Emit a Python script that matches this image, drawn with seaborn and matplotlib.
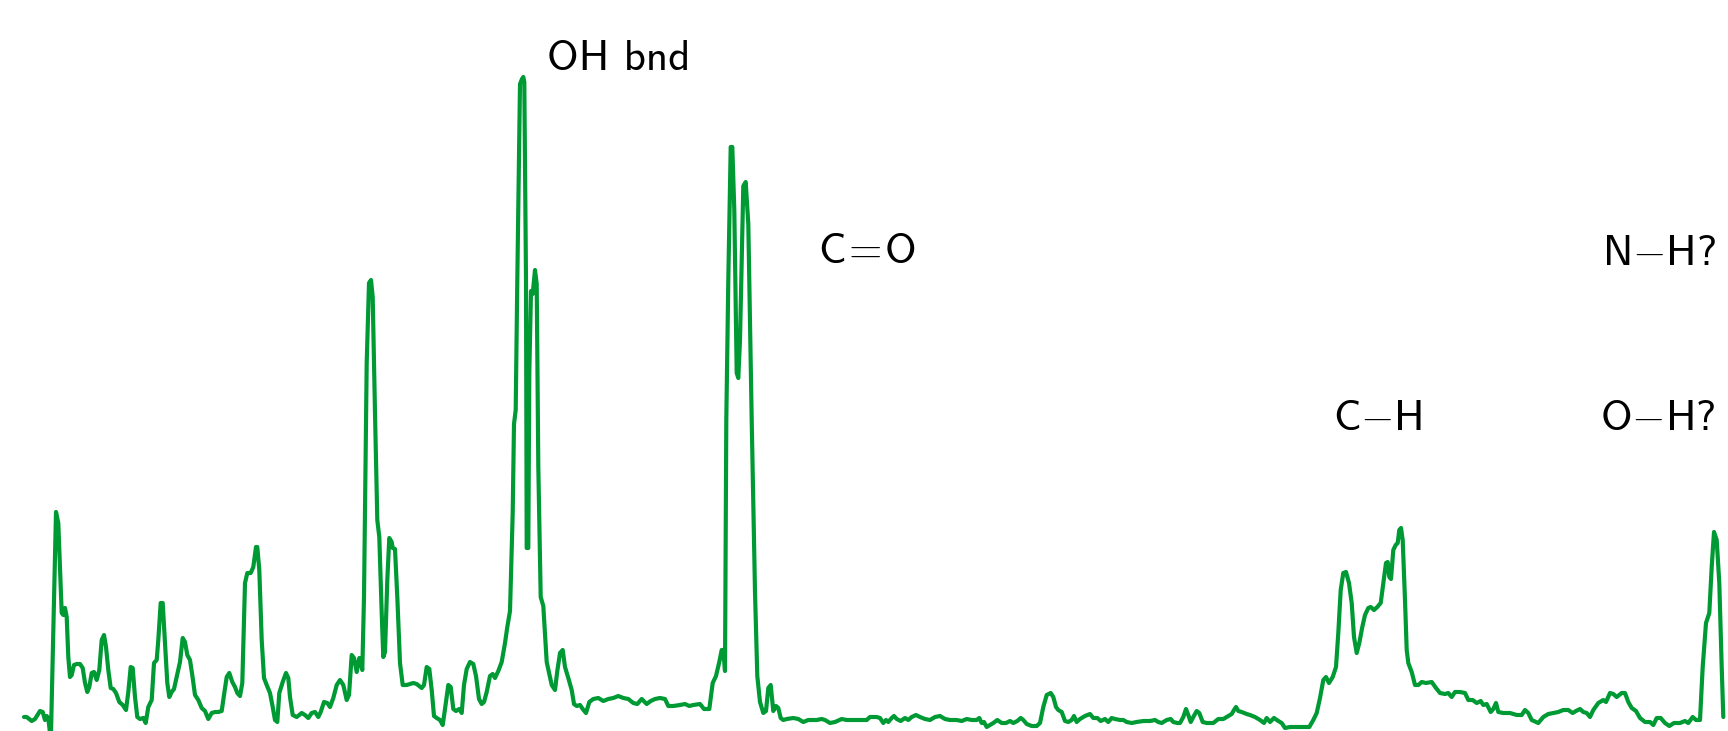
import matplotlib
matplotlib.use('Agg')
import matplotlib.pyplot as plt
import seaborn as sns
import pandas as pd

# --- SPECTRUM DATA (arbitrary units) ---
position = [
    24, 26.7, 31.7, 35, 40, 42.7, 45, 46.7, 48.3, 50, 51, 56, 58.3, 61.7, 63.3, 65, 66.7, 68.3, 70, 71.7,
    74, 76.7, 80, 82.7, 85, 87.3, 89.3, 91.7, 94, 96.7, 99.3, 101.7, 104, 106, 108.3, 110.7, 113.3, 116,
    119.3, 122.7, 126, 128.3, 130.7, 132.7, 135, 137.3, 140, 143.3, 145.7, 148.3, 151.7, 154, 156.7, 158.3,
    160.7, 162.7, 165, 167.3, 169.3, 171.7, 174, 176.7, 180, 182.7, 185, 187.3, 190, 192.7, 195, 198.3,
    201.7, 205, 208.3, 211.7, 215, 218.3, 221.7, 224, 226.7, 229.3, 232.3, 235, 237.3, 240, 242.3, 245,
    247.3, 250.7, 253.3, 256, 257.3, 259.3, 261.7, 264, 266.7, 270, 272.7, 275, 277.3, 279.3, 282.7, 286,
    288.3, 290, 292.7, 296.7, 301.7, 305, 308.3, 311.7, 315, 318.3, 320.7, 324, 327.3, 330, 333.3, 336.7,
    340, 343.3, 346.7, 349, 351.7, 354, 356.7, 359.3, 361, 362.3, 364, 366.7, 369, 371, 372.7, 375, 377.3,
    379.3, 381.7, 383.3, 385, 387.3, 389.3, 391.7, 392.7, 395, 397.3, 400, 402.7, 406.7, 410, 413.3, 416.7,
    421.7, 424, 426.7, 429.3, 431.7, 434, 436.7, 440, 442.7, 445, 448.3, 450.7, 453.3, 456, 459.3, 461.7,
    464, 466.7, 470, 473.3, 476, 479, 481.7, 484, 486.7, 490, 492.7, 495, 498.3, 501.7, 505, 507.3, 510,
    512.7, 514, 515.7, 517.3, 520, 522, 523.3, 524.3, 526, 526.7, 528.3, 529.3, 531, 532.7, 535, 536.7,
    538.3, 540.7, 543.3, 546.7, 549.3, 551.7, 555, 557.3, 560, 562.7, 565, 568.3, 571.7, 574, 576.7, 580,
    582.7, 586, 589.3, 593.3, 598.3, 603.3, 608.3, 613.3, 618.3, 623.3, 628.3, 633.3, 637.3, 641.7, 646.7,
    650.7, 655, 660, 665, 668.3, 673.3, 680, 685, 689.3, 693.3, 700, 704, 709.3, 712.7, 716, 719.3, 721.7,
    723.3, 725, 726.3, 728.3, 730.7, 732.3, 734.3, 736.7, 738.3, 740, 743.3, 745.7, 748.3, 751.7, 755,
    757.3, 760, 763.3, 766, 768.3, 770.7, 773.3, 776, 778.3, 780.7,
    783.3, 786.7, 793.3, 798.3, 803.3, 808.3, 816.7, 821.7, 825, 830, 835, 841.7, 846.7, 853.3, 860, 866.7,
    870, 876.7, 880, 883.3, 886, 888.3, 891.7, 894, 896.7, 900.7, 905, 908.3, 911.7, 916, 920, 925, 930,
    935, 940, 945, 950, 956.7, 961.7, 966.7, 971.7, 976.7, 979.3, 981.7, 984, 986.7, 990, 993.3, 997.3,
    1001.7, 1006, 1010, 1013.3, 1017.3, 1020.7, 1023.3, 1026.7, 1031.7, 1036.7, 1040, 1043.3, 1046.7,
    1050.7, 1053.3, 1056, 1058.3, 1061.7, 1065, 1068.3, 1071.7, 1074, 1076.7, 1080, 1085, 1090, 1093.3,
    1097.3, 1100.7, 1105, 1108.3, 1111.7, 1115, 1120, 1123.3, 1126.7, 1131.7, 1136.7, 1143.3, 1150, 1155,
    1158.3, 1161.7, 1166.7, 1170.7, 1173.3, 1177.3, 1180, 1183.3, 1186, 1188.3, 1190.7, 1193.3, 1196.7,
    1199.3, 1202.7, 1206.7, 1213.3, 1218.3, 1223.3, 1228.3, 1231.7, 1234, 1236, 1238.3, 1241.7, 1246.7,
    1250, 1255, 1260, 1264, 1266.7, 1270, 1274, 1278.3, 1281.7, 1285, 1290, 1296.7, 1303.3, 1309.3,
    1313.3, 1316.7, 1320, 1323.3, 1326, 1329, 1332.7, 1336, 1338.3, 1340.7, 1343.3, 1346, 1349, 1351.7,
    1354, 1356.7, 1359.3, 1362.3, 1365, 1368.3, 1370.7, 1374, 1377.3, 1380.7, 1383.3, 1386, 1387.7,
    1389.3, 1391, 1393.3, 1395.7, 1397.7, 1399.3, 1401, 1402.7, 1405, 1406.7, 1408.3, 1411.7, 1415,
    1418.3, 1421.7, 1426, 1431.7, 1436, 1440, 1445, 1448.3, 1451.7, 1455, 1460, 1465, 1468.3, 1472.7,
    1476.7, 1480.7, 1483.3, 1486.7, 1490.7, 1493.3, 1496, 1498.3, 1503.3, 1510, 1516.7, 1521.7, 1525,
    1528.3, 1531.7, 1538.3, 1543.3, 1548.3, 1553.3, 1558.3, 1563.3, 1568.3, 1572.7, 1576, 1580, 1583.3,
    1586.7, 1590, 1593.3, 1598.3, 1603.3, 1606, 1610, 1613.3, 1616.7, 1621.7, 1625, 1628.3, 1631.7, 1636,
    1640, 1645, 1650, 1653.3, 1656.7, 1660.7, 1665, 1669.3, 1674, 1680, 1685, 1688.3, 1692.7, 1696, 1700,
    1702.7, 1706, 1709.3, 1711.7, 1714, 1716.7, 1719.3, 1721.7, 1723.3,
]
intensity = [
    14, 14, 10, 12, 20, 19, 11, 15, 13, -2, -2, 219, 208, 118, 116, 123, 114, 74, 54, 56,
    66, 67, 67, 63, 48, 39, 44, 58, 59, 51, 61, 91, 96, 84, 61, 43, 42, 38,
    29, 26, 21, 39, 64, 63, 34, 14, 12, 13, 8, 24, 31, 68, 71, 91,
    128, 128, 88, 48, 34, 39, 42, 54, 69, 93, 89, 76, 71, 53, 36, 31,
    23, 20, 12, 18, 19, 19, 20, 36, 54, 58, 49, 44, 38, 35, 48, 148,
    158, 158, 164, 184, 184, 161, 91, 53, 46, 38, 24, 11, 9, 38, 49, 58,
    53, 34, 16, 14, 18, 16, 13, 18, 19, 14, 19, 29, 28, 24, 33, 46,
    51, 46, 31, 36, 76, 73, 59, 73, 68, 61, 134, 368, 448, 451, 434, 318, 211,
    194, 118, 74, 79, 151, 193, 189, 183, 182, 134, 68, 46, 46, 47, 48, 47,
    43, 46, 64, 62, 41, 15, 13, 11, 6, 22, 46, 44, 22, 20, 22, 18,
    46, 62, 69, 67, 55, 32, 27, 29, 39, 55, 57, 53, 60, 69, 88, 104, 120,
    218, 307, 321, 451, 647, 652, 654, 649, 451, 183, 183, 358, 440, 437, 461, 447,
    265, 134, 125, 69, 57, 46, 41, 60, 78, 81, 64, 53, 41, 27, 25, 26,
    22, 18, 29, 32, 33, 30, 32, 33, 35, 33, 32, 28, 27, 32, 27,
    30, 32, 33, 32, 25, 25, 26, 27, 25, 26, 27, 22, 22, 48, 55, 69, 81,
    81, 60, 311, 451, 584, 584, 521, 358, 353, 391, 545, 549, 507, 311, 139,
    55, 29, 18, 20, 43, 46, 20, 25, 23, 13,
    11, 12, 13, 12, 9, 11, 11, 12, 11, 8, 9, 12, 11, 11, 11, 11,
    14, 14, 13, 8, 11, 9, 13, 15, 12, 10, 13, 11, 14, 16, 14, 12, 11,
    14, 15, 12, 11, 11, 10, 12, 11, 11, 13, 8, 9, 4, 6, 8, 11,
    8, 8, 10, 8, 10, 13, 11, 7, 5, 5, 8, 24, 36,
    38, 34, 24, 21, 19, 10, 9, 11, 15, 9, 12, 15, 17, 13,
    13, 10, 12, 9, 13, 12, 11, 11, 9, 8, 9, 10, 10, 11,
    9, 8, 11, 12, 9, 8, 8, 14, 22, 16, 9, 14, 20,
    18, 9, 8, 8, 12, 12, 15, 17, 21, 24, 20, 19, 17,
    16, 14, 11, 8, 13, 9, 13, 10, 8, 3, 4, 4, 4, 4,
    11, 18, 33, 51, 54, 48, 54, 64, 98, 141, 158, 159, 148, 128,
    94, 78, 88, 104, 116, 123, 124, 121, 124, 128, 148, 168, 169,
    154, 152, 181, 186, 188, 201, 203, 191, 131, 81, 68, 59, 46,
    46, 49, 48, 49, 43, 38, 37, 38, 34, 39, 39, 38, 31, 31,
    28, 30, 26, 27, 19, 22, 28, 19, 18, 18, 16, 16, 21,
    18, 11, 8, 14, 17, 18, 19, 21, 21, 18, 20, 22, 19,
    18, 14, 21, 28, 31, 29, 38, 37, 34, 38, 38, 29, 23, 20,
    13, 9, 9, 6, 13, 13, 8, 5, 8, 8, 10, 8, 14, 11, 11,
    64, 108, 118, 164, 199, 191, 148, 64, 14,
]

# --- BAND LABELS ---
band_labels = ['OH bnd', r'C$\hspace{-0.12}=\hspace{-0.12}$O', r'N$-$H?', r'C$-$H', r'O$-$H?']
label_x = [547, 818, 1602, 1333, 1600]
label_y = [661, 468, 466, 301, 301]

df = pd.DataFrame({'position': position, 'intensity': intensity})

sns.set_style('white')
plt.rcParams['font.family'] = ['cmss10', 'DejaVu Sans']
plt.rcParams['mathtext.fontset'] = 'cm'

fig = plt.figure(figsize=(17.28, 7.31), dpi=100)
ax = fig.add_axes([0, 0, 1, 1])

sns.lineplot(data=df, x='position', y='intensity', ax=ax, color='#009a35',
             linewidth=3, estimator=None, sort=False)

for txt, tx, ty in zip(band_labels, label_x, label_y):
    ax.text(tx, ty, txt, fontsize=31, color='black', ha='left', va='baseline')

ax.set_xlim(0, 1728)
ax.set_ylim(0, 731)
ax.axis('off')

fig.savefig('out.png', dpi=100, facecolor='white')
plt.close()
